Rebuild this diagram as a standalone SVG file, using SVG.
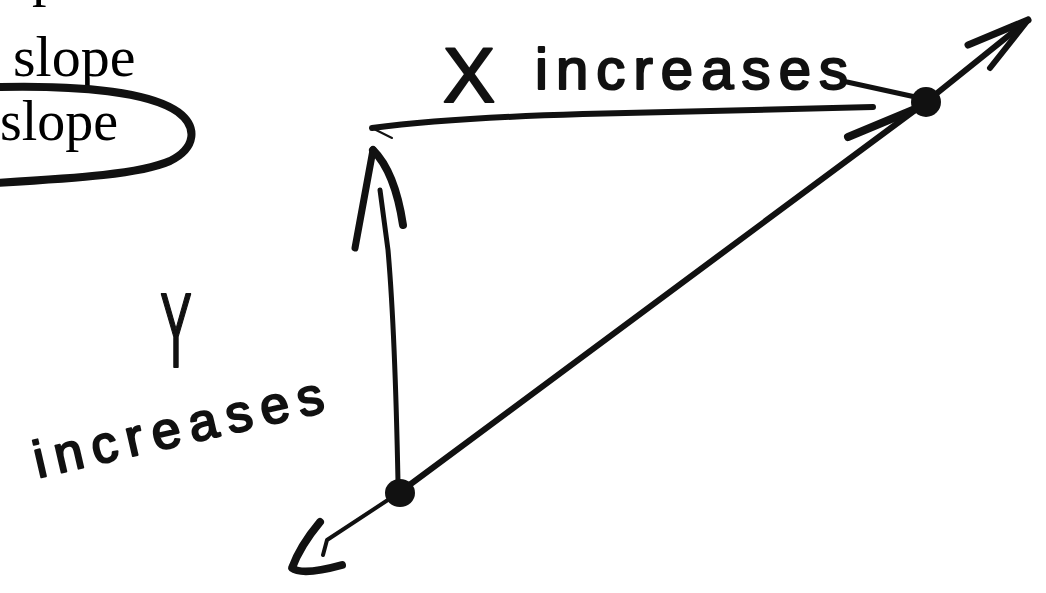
<svg xmlns="http://www.w3.org/2000/svg" width="1046" height="593" viewBox="0 0 1046 593">
<style>
.serif{font-family:"Liberation Serif","Times New Roman",serif;font-size:58px;fill:#000}
.hand{font-family:"Liberation Sans",Arial,sans-serif;fill:#111;stroke:#111;stroke-width:2.2;stroke-linejoin:round}
.ink{fill:none;stroke:#111;stroke-linecap:round;stroke-linejoin:round}
.dot{fill:#111}
</style>
<rect width="1046" height="593" fill="#fff"/>
<g id="printed-text">
<text class="serif" x="32" y="-5">p</text>
<text class="serif" x="13" y="76">slope</text>
<text class="serif" x="0" y="140" textLength="118" lengthAdjust="spacingAndGlyphs">slope</text>
<path id="circle-mark" class="ink" stroke-width="8" d="M-5,87 C80,85 150,92 178,112 C198,127 196,148 170,161 C140,174 80,178 -5,183"/>
</g>
<g id="label-x">
<text class="hand"><tspan x="443" y="102" font-size="78">X</tspan><tspan x="535" y="89" font-size="58" textLength="313" lengthAdjust="spacing">increases</tspan></text>
</g>
<g id="label-y">
<text class="hand" font-size="105" text-anchor="middle" transform="translate(176,367) scale(0.45,1)">Y</text>
<text class="hand" font-size="52" transform="translate(38,478) rotate(-13)" textLength="296" lengthAdjust="spacing">increases</text>
</g>
<g id="connectors">
<path id="x-arrow" class="ink" stroke-width="6" d="M372,128 Q450,118 583,114 L873,107"/>
<path class="ink" stroke-width="2" d="M372,128 L392,138"/>
<path class="ink" stroke-width="5" d="M847,82 L920,98"/>
<path class="ink" stroke-width="8" d="M848,137 L920,107"/>
<path id="y-arrow" class="ink" stroke-width="5" d="M380,190 L388,250 Q395,330 398,482"/>
<path class="ink" stroke-width="7" d="M373,150 L355,248"/>
<path class="ink" stroke-width="8" d="M373,150 Q395,172 403,225"/>
<path id="slope-line" class="ink" stroke-width="6" d="M400,492 L926,102 L1028,20"/>
<path class="ink" stroke-width="7" d="M968,45 L1028,20"/>
<path class="ink" stroke-width="6" d="M990,68 L1028,20"/>
<path class="ink" stroke-width="4" d="M400,492 L327,540 L323,555"/>
<path class="ink" stroke-width="8" d="M320,522 Q300,546 292,568 Q302,576 342,565"/>
</g>
<g id="point-b"><ellipse class="dot" cx="926" cy="102" rx="15" ry="15"/></g>
<g id="point-a"><ellipse class="dot" cx="400" cy="493" rx="15" ry="14"/></g>
</svg>
